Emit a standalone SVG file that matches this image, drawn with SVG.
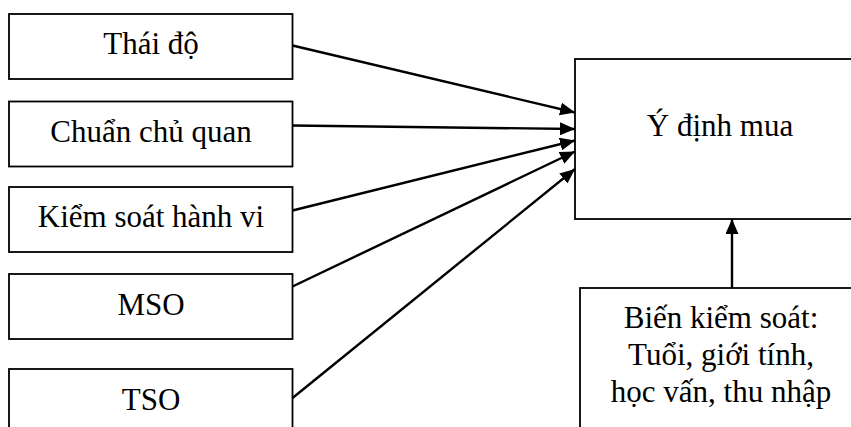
<svg xmlns="http://www.w3.org/2000/svg" width="851" height="427" viewBox="0 0 851 427">
<style>
.box{fill:#fff;stroke:#000;stroke-width:1.8}
.t{font-size:31px;fill:#000;text-anchor:middle}
.c{stroke:#000;stroke-width:2.4;fill:none;marker-end:url(#ah)}
</style>
<defs>
<marker id="ah" viewBox="0 0 15 13" refX="15" refY="6.5" markerWidth="15" markerHeight="13" markerUnits="userSpaceOnUse" orient="auto">
<path d="M0,0 L15,6.5 L0,13 Z" fill="#000"/>
</marker>
</defs>
<rect width="851" height="427" fill="#fff"/>
<g font-family="'Liberation Serif', 'Times New Roman', Tinos, 'DejaVu Serif', serif">
<g id="n1"><rect class="box" x="9" y="14" width="283.5" height="65"/><text class="t" x="151" y="54">Thái độ</text></g>
<g id="n2"><rect class="box" x="9" y="101.5" width="283.5" height="65"/><text class="t" x="151" y="142">Chuẩn chủ quan</text></g>
<g id="n3"><rect class="box" x="9" y="187" width="283.5" height="65"/><text class="t" x="151" y="227">Kiểm soát hành vi</text></g>
<g id="n4"><rect class="box" x="9" y="274" width="283.5" height="65"/><text class="t" x="151" y="315">MSO</text></g>
<g id="n5"><rect class="box" x="9" y="369" width="283.5" height="80"/><text class="t" x="151" y="410">TSO</text></g>
<g id="target"><rect class="box" x="575" y="59" width="300" height="160"/><text class="t" x="720" y="136">Ý định mua</text></g>
<g id="control"><rect class="box" x="580" y="288" width="300" height="160"/>
<text class="t" x="721" y="328">Biến kiểm soát:</text>
<text class="t" x="721" y="365">Tuổi, giới tính,</text>
<text class="t" x="721" y="402">học vấn, thu nhập</text></g>
</g>
<g id="connectors">
<line class="c" x1="292.5" y1="45.5" x2="575" y2="112.5"/>
<line class="c" x1="292.5" y1="125.5" x2="575" y2="129"/>
<line class="c" x1="292.5" y1="210.5" x2="575" y2="140.5"/>
<line class="c" x1="292.5" y1="286.5" x2="575" y2="151.5"/>
<line class="c" x1="292.5" y1="398" x2="575" y2="169"/>
<line class="c" x1="732" y1="288" x2="732" y2="219"/>
</g>
</svg>
